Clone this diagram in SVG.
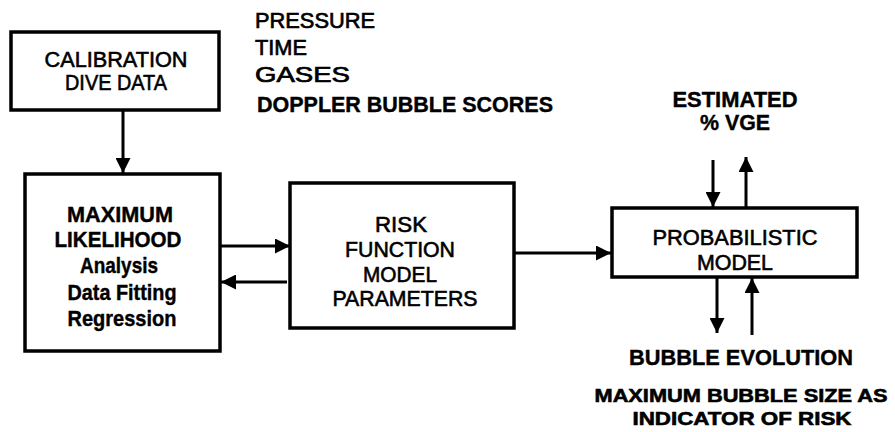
<svg xmlns="http://www.w3.org/2000/svg" width="895" height="432" viewBox="0 0 895 432">
<style>
.box{fill:#fff;stroke:#000;stroke-width:3.5}
text{font-family:"Liberation Sans",Arial,sans-serif;fill:#000}
.m{font-size:22px;stroke:#000;stroke-width:0.6;text-anchor:middle}
.b{font-size:22px;font-weight:bold;stroke:#000;stroke-width:0.4;text-anchor:middle}
.bs{font-size:19px;font-weight:bold;stroke:#000;stroke-width:0.6;text-anchor:middle}
.l{font-size:22px;stroke:#000;stroke-width:0.7}
.lb{font-size:22px;font-weight:bold;stroke:#000;stroke-width:0.4}
.c{stroke:#000;stroke-width:3;fill:none}
</style>
<defs>
<marker id="ah" viewBox="0 0 10 10" refX="10" refY="5" markerWidth="5.5" markerHeight="5" orient="auto" markerUnits="strokeWidth">
<path d="M0,0 L10,5 L0,10 Z" fill="#000"/>
</marker>
</defs>
<rect width="895" height="432" fill="#fff"/>
<g id="connectors">
<line class="c" x1="123" y1="110" x2="123" y2="173" marker-end="url(#ah)"/>
<line class="c" x1="220" y1="246" x2="290" y2="246" marker-end="url(#ah)"/>
<line class="c" x1="287" y1="282" x2="221" y2="282" marker-end="url(#ah)"/>
<line class="c" x1="514" y1="253" x2="611" y2="253" marker-end="url(#ah)"/>
<line class="c" x1="713" y1="160" x2="713" y2="207" marker-end="url(#ah)"/>
<line class="c" x1="746" y1="207" x2="746" y2="157" marker-end="url(#ah)"/>
<line class="c" x1="717" y1="278" x2="717" y2="333" marker-end="url(#ah)"/>
<line class="c" x1="752" y1="335" x2="752" y2="278" marker-end="url(#ah)"/>
</g>
<g id="calibration">
<rect class="box" x="11" y="32" width="208" height="78"/>
<text class="m" x="116" y="67" textLength="143" lengthAdjust="spacingAndGlyphs">CALIBRATION</text>
<text class="m" x="116" y="90" textLength="102" lengthAdjust="spacingAndGlyphs">DIVE DATA</text>
</g>
<g id="inputs">
<text class="l" x="255" y="28" textLength="120" lengthAdjust="spacingAndGlyphs">PRESSURE</text>
<text class="l" x="255" y="55" textLength="52" lengthAdjust="spacingAndGlyphs">TIME</text>
<text class="l" x="255" y="82" textLength="95" lengthAdjust="spacingAndGlyphs">GASES</text>
<text class="lb" x="257" y="112" textLength="296" lengthAdjust="spacingAndGlyphs">DOPPLER BUBBLE SCORES</text>
</g>
<g id="max-likelihood">
<rect class="box" x="25" y="174" width="195" height="177"/>
<text class="b" x="120" y="222" textLength="106" lengthAdjust="spacingAndGlyphs">MAXIMUM</text>
<text class="b" x="118" y="247" textLength="127" lengthAdjust="spacingAndGlyphs">LIKELIHOOD</text>
<text class="b" x="119" y="273" textLength="78" lengthAdjust="spacingAndGlyphs">Analysis</text>
<text class="b" x="122" y="300" textLength="109" lengthAdjust="spacingAndGlyphs">Data Fitting</text>
<text class="b" x="122" y="326" textLength="109" lengthAdjust="spacingAndGlyphs">Regression</text>
</g>
<g id="risk-function">
<rect class="box" x="290" y="183" width="224" height="145"/>
<text class="m" x="401" y="232" textLength="52" lengthAdjust="spacingAndGlyphs">RISK</text>
<text class="m" x="400" y="257" textLength="110" lengthAdjust="spacingAndGlyphs">FUNCTION</text>
<text class="m" x="400" y="282" textLength="74" lengthAdjust="spacingAndGlyphs">MODEL</text>
<text class="m" x="405" y="306" textLength="145" lengthAdjust="spacingAndGlyphs">PARAMETERS</text>
</g>
<g id="probabilistic">
<rect class="box" x="612" y="208" width="245" height="69"/>
<text class="m" x="735" y="245" textLength="165" lengthAdjust="spacingAndGlyphs">PROBABILISTIC</text>
<text class="m" x="735" y="270" textLength="76" lengthAdjust="spacingAndGlyphs">MODEL</text>
</g>
<g id="estimated-vge">
<text class="b" x="735" y="107" textLength="125" lengthAdjust="spacingAndGlyphs">ESTIMATED</text>
<text class="b" x="735" y="130" textLength="70" lengthAdjust="spacingAndGlyphs">% VGE</text>
</g>
<g id="bubble-outputs">
<text class="b" x="741" y="365" textLength="224" lengthAdjust="spacingAndGlyphs">BUBBLE EVOLUTION</text>
<text class="bs" x="741" y="402" textLength="293" lengthAdjust="spacingAndGlyphs">MAXIMUM BUBBLE SIZE AS</text>
<text class="bs" x="742" y="425" textLength="219" lengthAdjust="spacingAndGlyphs">INDICATOR OF RISK</text>
</g>
</svg>
